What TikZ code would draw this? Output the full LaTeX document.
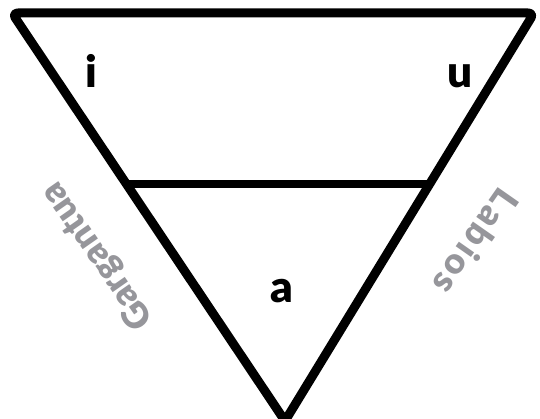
\documentclass[tikz,border=0pt]{standalone}
\usepackage{fontspec}
\setmainfont{Lato}
\newfontfamily\heavyfont{Lato Black}
\usetikzlibrary{calc}
\definecolor{labelgray}{RGB}{150,150,155}
\begin{document}
\begin{tikzpicture}[x=1pt,y=-1pt,
  edge/.style={line width=9pt,line join=round,line cap=round,rounded corners=6pt},
  bar/.style={line width=8pt},
  vowel/.style={font=\heavyfont\fontsize{44}{44}\selectfont,inner sep=0pt,anchor=base},
  side/.style={font=\heavyfont\fontsize{36}{36}\selectfont,text=labelgray,inner sep=0pt}]
\useasboundingbox (0,0) rectangle (540,419);
\coordinate (A) at (12,13);
\coordinate (B) at (534,13);
\coordinate (C) at (285,421);
\draw[edge] (A) -- (B) -- (C) -- cycle;
\coordinate (L) at ($(A)!0.42!(C)$);
\coordinate (R) at ($(B)!0.42!(C)$);
\draw[bar] (L) -- (R);
\node[vowel] (i) at (91,88) {i};
\node[vowel] (u) at (460,88) {u};
\node[vowel] (a) at (282,302) {a};
\node[side,rotate=125] (g) at (98,256) {Gargantua};
\node[side,rotate=235] (lb) at (476,242) {\addfontfeature{LetterSpace=8}Labios};
\end{tikzpicture}
\end{document}
